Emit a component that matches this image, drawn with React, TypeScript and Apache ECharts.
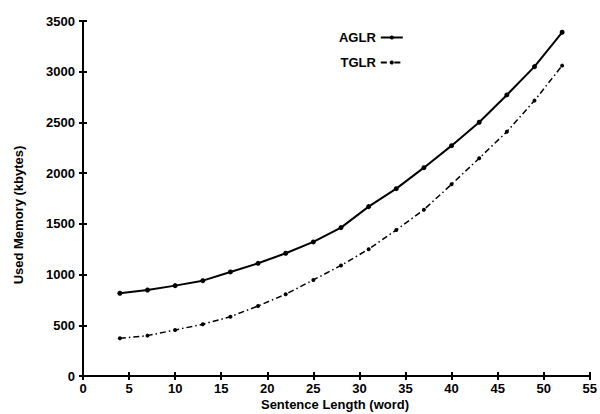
import React, { useEffect, useRef } from "react";
import * as echarts from "echarts";

const sentenceLengths = [4, 7, 10, 13, 16, 19, 22, 25, 28, 31, 34, 37, 40, 43, 46, 49, 52];
const aglrMemory = [816, 848, 891, 940, 1026, 1111, 1210, 1322, 1463, 1670, 1847, 2054, 2271, 2502, 2771, 3050, 3389];
const tglrMemory = [372, 398, 454, 510, 585, 690, 806, 947, 1090, 1250, 1440, 1640, 1890, 2147, 2409, 2715, 3060];
const seriesNames = ["AGLR", "TGLR"];
const xAxisTitle = "Sentence Length (word)";
const yAxisTitle = "Used Memory (kbytes)";

const FONT = "Liberation Sans";

export default function App() {
  const ref = useRef<HTMLDivElement>(null);
  useEffect(() => {
    if (!ref.current) return;
    const chart = echarts.init(ref.current, undefined, { renderer: "svg" });
    const axisLine = { show: true, lineStyle: { color: "#000", width: 2 } };
    const tick = { show: true, inside: true, length: 4, lineStyle: { color: "#000", width: 2 } };
    const label = {
      color: "#000",
      fontSize: 13,
      fontWeight: "bold" as const,
      fontFamily: FONT,
      formatter: (v: number) => String(v),
    };
    chart.setOption({
      animation: false,
      backgroundColor: "#fff",
      grid: { left: 83, right: 9, top: 21, bottom: 38, containLabel: false },
      legend: {
        orient: "vertical",
        left: 334,
        top: 25,
        align: "right",
        itemWidth: 22,
        itemHeight: 5,
        itemGap: 10,
        textStyle: { color: "#000", fontSize: 13, fontWeight: "bold", fontFamily: FONT, lineHeight: 15 },
        data: seriesNames,
      },
      xAxis: [
        {
          type: "value",
          min: 0,
          max: 55,
          interval: 5,
          position: "bottom",
          axisLine,
          axisTick: tick,
          axisLabel: { ...label, margin: 6 },
          splitLine: { show: false },
        },
        {
          type: "value",
          min: 0,
          max: 55,
          interval: 5,
          position: "top",
          axisLine,
          axisTick: tick,
          axisLabel: { show: false },
          splitLine: { show: false },
        },
      ],
      yAxis: [
        {
          type: "value",
          min: 0,
          max: 3500,
          interval: 500,
          position: "left",
          axisLine,
          axisTick: tick,
          axisLabel: { ...label, margin: 8 },
          splitLine: { show: false },
        },
        {
          type: "value",
          min: 0,
          max: 3500,
          interval: 500,
          position: "right",
          axisLine,
          axisTick: tick,
          axisLabel: { show: false },
          splitLine: { show: false },
        },
      ],
      graphic: [
        {
          type: "text",
          x: 335,
          y: 404,
          style: {
            text: xAxisTitle,
            fill: "#000",
            fontSize: 13,
            fontWeight: "bold",
            fontFamily: FONT,
            align: "center",
            verticalAlign: "middle",
          },
        },
        {
          type: "text",
          x: 18,
          y: 215,
          rotation: Math.PI / 2,
          style: {
            text: yAxisTitle,
            fill: "#000",
            fontSize: 13,
            fontWeight: "bold",
            fontFamily: FONT,
            align: "center",
            verticalAlign: "middle",
          },
        },
      ],
      series: [
        {
          name: seriesNames[0],
          type: "line",
          data: sentenceLengths.map((x, i) => [x, aglrMemory[i]]),
          symbol: "circle",
          symbolSize: 5,
          itemStyle: { color: "#000" },
          lineStyle: { color: "#000", width: 2 },
        },
        {
          name: seriesNames[1],
          type: "line",
          data: sentenceLengths.map((x, i) => [x, tglrMemory[i]]),
          symbol: "circle",
          symbolSize: 4,
          itemStyle: { color: "#000" },
          lineStyle: { color: "#000", width: 1.5, type: [6, 3, 1.5, 3] },
        },
      ],
    });
    return () => chart.dispose();
  }, []);
  return <div ref={ref} style={{ width: 600, height: 414, position: "absolute", left: 0, top: 0 }} />;
}
